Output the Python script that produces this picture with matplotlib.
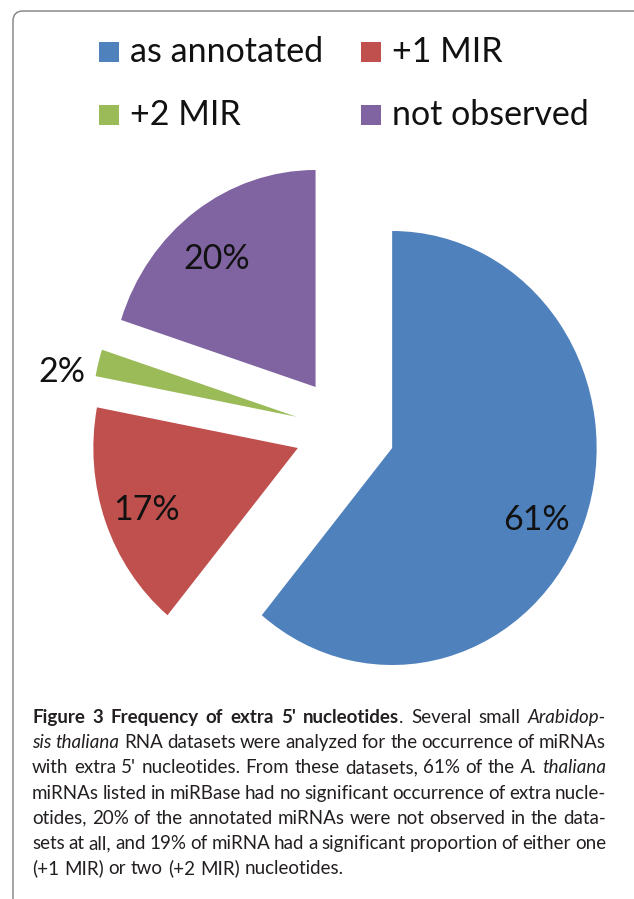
import matplotlib
matplotlib.use('Agg')
import matplotlib.pyplot as plt
from matplotlib.patches import FancyBboxPatch, Rectangle
import numpy as np

# ---------------- data ----------------
labels = ['as annotated', '+1 MIR', '+2 MIR', 'not observed']
values = [61, 17, 2, 20]
colors = ['#4F81BD', '#C0504D', '#9BBB59', '#8064A2']

caption_lines = [
    [("Figure 3 Frequency of extra 5' nucleotides", 'bold'), ('. Several small ', 'normal'), ('Arabidop-', 'italic')],
    [('sis thaliana', 'italic'), (' RNA datasets were analyzed for the occurrence of miRNAs', 'normal')],
    [("with extra 5' nucleotides. From these datasets, 61% of the ", 'normal'), ('A. thaliana', 'italic')],
    [('miRNAs listed in miRBase had no significant occurrence of extra nucle-', 'normal')],
    [('otides, 20% of the annotated miRNAs were not observed in the data-', 'normal')],
    [('sets at all, and 19% of miRNA had a significant proportion of either one', 'normal')],
    [('(+1 MIR) or two (+2 MIR) nucleotides.', 'normal')],
]

# label placement style (angle tweak in degrees, distance from slice tip)
label_shift_deg = [-4.5, 0.4, 3.6, 2.6]
label_dist = [0.772, 0.787, 1.168, 0.773]

# ---------------- figure ----------------
W, H, DPI = 634, 899, 100
fig = plt.figure(figsize=(W / DPI, H / DPI), dpi=DPI)
inch = fig.dpi_scale_trans


def X(px):
    return px / DPI


def Y(py):
    return (H - py) / DPI


# pie axes (slightly taller than wide, as in the reference)
cx, cy, rx, ry = 345, 430, 204.5, 217
xl = (-1.5, 1.4)
yl = (-1.3, 1.3)
left = cx + xl[0] * rx
right = cx + xl[1] * rx
top = cy - yl[1] * ry
bottom = cy - yl[0] * ry
ax = fig.add_axes([left / W, 1 - bottom / H, (right - left) / W, (bottom - top) / H])
ax.patch.set_visible(False)
wedges, texts, autotexts = ax.pie(
    values, explode=[0.245] * len(values), colors=colors, startangle=90,
    counterclock=False, autopct='%1.0f%%', pctdistance=0.78,
    wedgeprops=dict(linewidth=0),
    textprops=dict(fontsize=24.5, family='Lato', color='#111111'))
ax.set_aspect('auto')
ax.set_xlim(*xl)
ax.set_ylim(*yl)
for w, t, sh, d in zip(wedges, autotexts, label_shift_deg, label_dist):
    ang = np.deg2rad((w.theta1 + w.theta2) / 2 + sh)
    t.set_position((w.center[0] + d * np.cos(ang), w.center[1] + d * np.sin(ang)))
    t.set_verticalalignment('center_baseline')

# frame around the chart (right side falls outside the picture)
border = FancyBboxPatch((X(13), Y(960)), X(700 - 13), (960 - 11) / DPI,
                        boxstyle='round,pad=0,rounding_size=0.1', transform=inch,
                        fill=False, edgecolor='#8a8a8a', linewidth=1.1, zorder=5)
fig.add_artist(border)

# legend (two columns)
for i, (lab, col) in enumerate(zip(labels, colors)):
    r, c = divmod(i, 2)
    sx = [99, 361][c]
    base = [62, 125][r]
    fig.add_artist(Rectangle((X(sx), Y(base)), X(20), 20 / DPI, transform=inch,
                             facecolor=col, edgecolor='none'))
    fig.text(X(sx + 31), Y(base), lab, transform=inch, fontsize=24.5, family='Lato',
             va='baseline', ha='left', color='#111111')

# caption (justified)
renderer = fig.canvas.get_renderer()
cap_left, cap_right = 32, 606
base0, lead = 723, 25.2
fs = 13.5
styles = {'bold': dict(fontweight='bold'), 'italic': dict(fontstyle='italic'), 'normal': {}}
for li, segs in enumerate(caption_lines):
    words, cur = [], []
    for text, st in segs:
        parts = text.split(' ')
        for j, p in enumerate(parts):
            if j > 0 and cur:
                words.append(cur)
                cur = []
            if p:
                cur.append((p, st))
    if cur:
        words.append(cur)
    objs, widths = [], []
    for wd in words:
        pieces, ww = [], 0
        for p, st in wd:
            t = fig.text(0, 0, p, transform=inch, fontsize=fs, family='Lato',
                         va='baseline', ha='left', color='#231f20', **styles[st])
            w_ = t.get_window_extent(renderer).width
            pieces.append((t, w_))
            ww += w_
        objs.append(pieces)
        widths.append(ww)
    justify = li < len(caption_lines) - 1
    if justify and len(words) > 1:
        gap = (cap_right - cap_left - sum(widths)) / (len(words) - 1)
    else:
        gap = fs * DPI / 72 * 0.26
    x = cap_left
    y = base0 + li * lead
    for pieces in objs:
        for t, w_ in pieces:
            t.set_position((X(x), Y(y)))
            x += w_
        x += gap

fig.savefig('out.png', dpi=DPI)
